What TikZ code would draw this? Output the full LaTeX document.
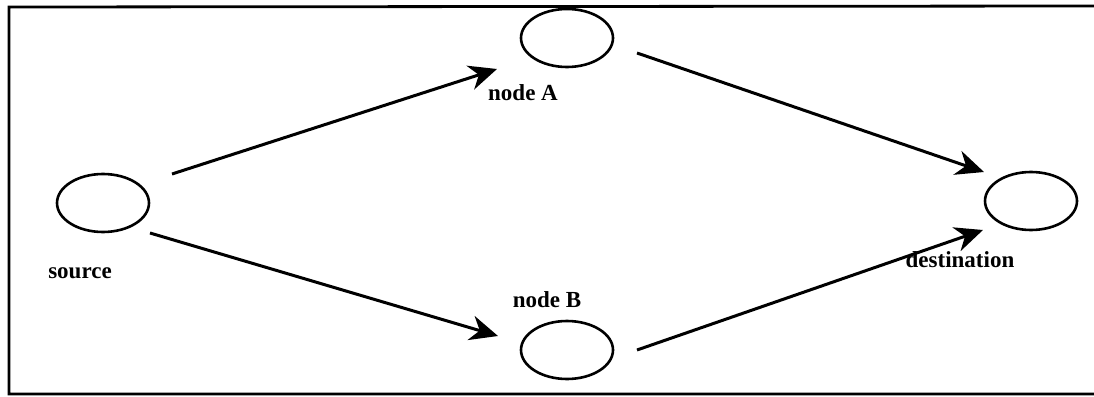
\documentclass[tikz,border=0pt]{standalone}
\usepackage{fontspec}
\setmainfont{Liberation Serif}
\usetikzlibrary{shapes.geometric,arrows.meta}
\begin{document}
\begin{tikzpicture}[x=1pt,y=-1pt,
  vertex/.style={draw,ellipse,line width=2.6pt,minimum width=92pt,minimum height=58pt,inner sep=0pt},
  lbl/.style={anchor=base,font=\fontsize{23}{25}\selectfont\bfseries,inner sep=0pt},
  link/.style={line width=3pt,-{Stealth[length=28pt,width=25pt,inset=9pt]}},
  frame/.style={line width=2.8pt}]
\useasboundingbox (0,0) rectangle (1094,396);
% frame
\coordinate (f1) at (1094,6);
\coordinate (f2) at (9,7);
\coordinate (f3) at (9,394);
\coordinate (f4) at (1094,394);
\draw[frame] (f1) -- (f2) -- (f3) -- (f4);
% nodes
\node[vertex] (src) at (103,203) {};
\node[vertex] (na) at (567,38) {};
\node[vertex] (nb) at (567,350) {};
\node[vertex] (dst) at (1031,201) {};
% labels
\node[lbl] (lsrc) at (80,278) {source};
\node[lbl] (lna) at (523,100) {node A};
\node[lbl] (lnb) at (547,307) {node B};
\node[lbl] (ldst) at (960,267) {destination};
% connector end points
\coordinate (s1) at (172,174);
\coordinate (a1) at (497,69);
\coordinate (s2) at (150,233);
\coordinate (b1) at (498,336);
\coordinate (a2) at (637,53);
\coordinate (d1) at (984,172);
\coordinate (b2) at (637,350);
\coordinate (d2) at (983,230);
\draw[link] (s1) -- (a1);
\draw[link] (s2) -- (b1);
\draw[link] (a2) -- (d1);
\draw[link] (b2) -- (d2);
\end{tikzpicture}
\end{document}
